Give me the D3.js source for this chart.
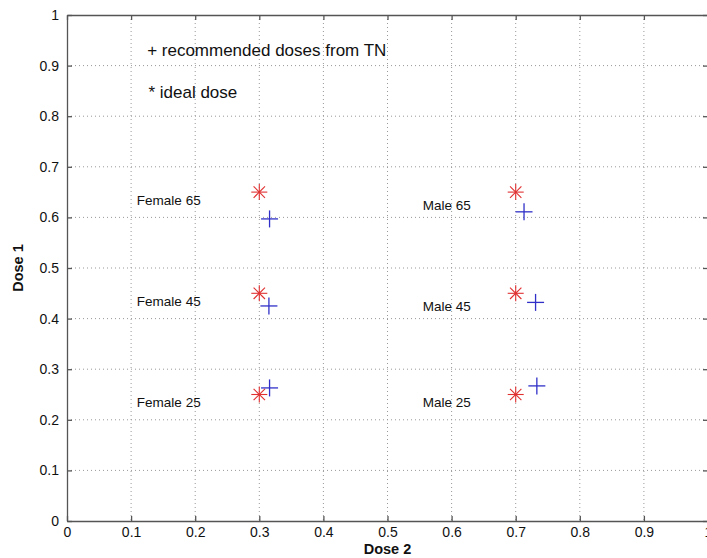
<!DOCTYPE html>
<html><head><meta charset="utf-8">
<script src="https://cdn.jsdelivr.net/npm/d3@7"></script>
<style>body{margin:0;background:#fff;overflow:hidden}svg{display:block}text{font-family:"Liberation Sans",Arial,sans-serif}</style>
</head><body><svg id="c" width="707" height="558"></svg>
<script>
const xTicks = [0,0.1,0.2,0.3,0.4,0.5,0.6,0.7,0.8,0.9,1];
const yTicks = [0,0.1,0.2,0.3,0.4,0.5,0.6,0.7,0.8,0.9,1];
const groups = ["Female 65","Female 45","Female 25","Male 65","Male 45","Male 25"];
const idealDose2 = [0.3,0.3,0.3,0.7,0.7,0.7];
const idealDose1 = [0.65,0.45,0.25,0.65,0.45,0.25];
const recDose2 = [0.316,0.315,0.316,0.713,0.731,0.733];
const recDose1 = [0.597,0.425,0.263,0.611,0.432,0.267];
const labelX = [0.109,0.109,0.109,0.555,0.555,0.555];
const labelY = [0.625,0.425,0.225,0.615,0.416,0.225];
const notes = ["+ recommended doses from TN","* ideal dose"];
const noteX = [0.125,0.127];
const noteY = [0.918,0.836];

const svg = d3.select("#c");
const L=67,R=708,T=15,B=521;
const x = d3.scaleLinear().domain([0,1]).range([L,R]);
const y = d3.scaleLinear().domain([0,1]).range([B,T]);
const axisCol="#555";

// grid
const g = svg.append("g");
g.selectAll(".gx").data(xTicks.slice(1,-1)).join("line")
 .attr("x1",d=>x(d)).attr("x2",d=>x(d)).attr("y1",T).attr("y2",B)
 .attr("stroke","#999").attr("stroke-width",1).attr("stroke-dasharray","1,3");
g.selectAll(".gy").data(yTicks.slice(1,-1)).join("line")
 .attr("y1",d=>y(d)).attr("y2",d=>y(d)).attr("x1",L).attr("x2",R)
 .attr("stroke","#999").attr("stroke-width",1).attr("stroke-dasharray","1,3");

// axes (ticks inward)
const fmt = d=> d===0?"0":d===1?"1":d3.format(".1f")(d);
const xb = svg.append("g").attr("transform",`translate(0,${B})`)
 .call(d3.axisBottom(x).tickValues(xTicks).tickFormat(fmt).tickSizeInner(-5).tickSizeOuter(0).tickPadding(6));
const xt = svg.append("g").attr("transform",`translate(0,${T})`)
 .call(d3.axisTop(x).tickValues(xTicks).tickFormat("").tickSizeInner(-5).tickSizeOuter(0));
const yl = svg.append("g").attr("transform",`translate(${L},0)`)
 .call(d3.axisLeft(y).tickValues(yTicks).tickFormat(fmt).tickSizeInner(-5).tickSizeOuter(0).tickPadding(8));
const yr = svg.append("g").attr("transform",`translate(${R},0)`)
 .call(d3.axisRight(y).tickValues(yTicks).tickFormat("").tickSizeInner(-5).tickSizeOuter(0));
[xb,xt,yl,yr].forEach(a=>{
  a.selectAll("path,line").attr("stroke",axisCol).attr("stroke-width",1.3);
  a.selectAll("text").attr("fill","#111").style("font-size","14px").style("font-family","Liberation Sans, Arial, sans-serif");
});
yl.selectAll("text").attr("dy","0.32em");

// ideal stars (red *)
const st = svg.append("g");
groups.forEach((n,i)=>{
  const cx=x(idealDose2[i]), cy=y(idealDose1[i]), r=8, d=5.7;
  const s=st.append("g").attr("stroke","#e03030").attr("stroke-width",1.1);
  s.append("line").attr("x1",cx-r).attr("x2",cx+r).attr("y1",cy).attr("y2",cy);
  s.append("line").attr("x1",cx).attr("x2",cx).attr("y1",cy-r).attr("y2",cy+r);
  s.append("line").attr("x1",cx-d).attr("x2",cx+d).attr("y1",cy-d).attr("y2",cy+d);
  s.append("line").attr("x1",cx-d).attr("x2",cx+d).attr("y1",cy+d).attr("y2",cy-d);
});
// recommended plus (blue +)
groups.forEach((n,i)=>{
  const cx=x(recDose2[i]), cy=y(recDose1[i]), r=8.5;
  const s=st.append("g").attr("stroke","#3030c8").attr("stroke-width",1.3);
  s.append("line").attr("x1",cx-r).attr("x2",cx+r).attr("y1",cy).attr("y2",cy);
  s.append("line").attr("x1",cx).attr("x2",cx).attr("y1",cy-r).attr("y2",cy+r);
});

// group labels
svg.selectAll(".lab").data(groups).join("text")
 .attr("x",(d,i)=>x(labelX[i])).attr("y",(d,i)=>y(labelY[i]))
 .style("font-size","13.5px").attr("fill","#111").text(d=>d);

// notes
svg.selectAll(".note").data(notes).join("text")
 .attr("x",(d,i)=>x(noteX[i])).attr("y",(d,i)=>y(noteY[i]))
 .style("font-size","17px").attr("fill","#111").text(d=>d);

// axis titles
svg.append("text").attr("x",x(0.5)).attr("y",554).attr("text-anchor","middle")
 .style("font-size","14.5px").style("font-weight","bold").attr("fill","#111").text("Dose 2");
svg.append("text").attr("transform",`translate(23,${y(0.5)}) rotate(-90)`).attr("text-anchor","middle")
 .style("font-size","14.5px").style("font-weight","bold").attr("fill","#111").text("Dose 1");
</script></body></html>
